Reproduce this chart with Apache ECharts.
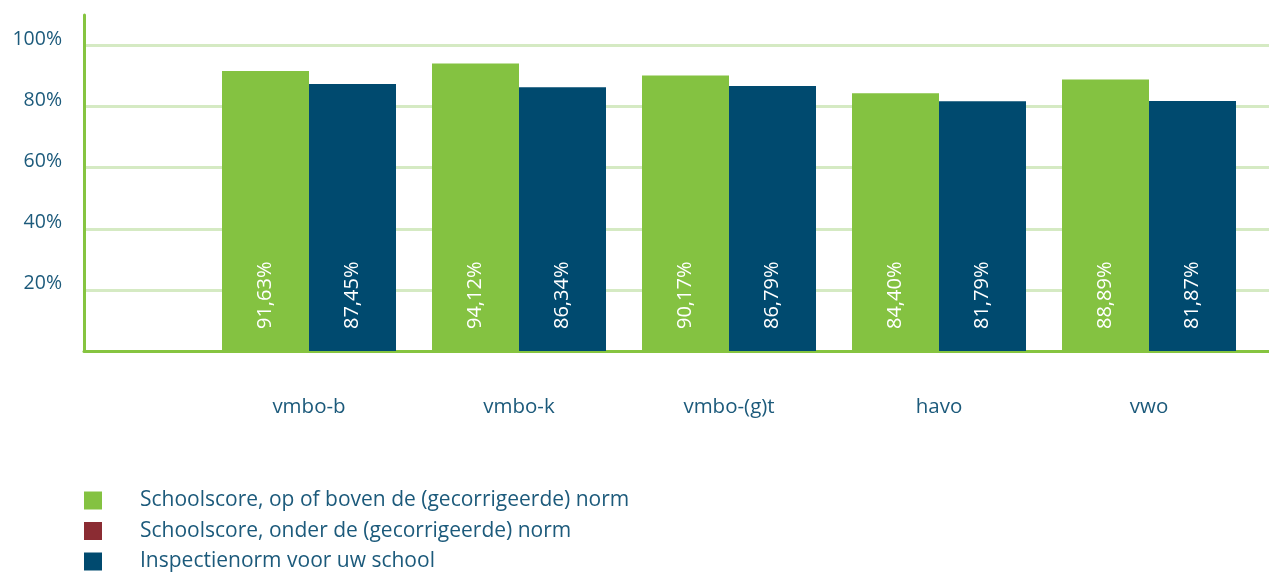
<!DOCTYPE html>
<html>
<head>
<meta charset="utf-8">
<script src="https://cdn.jsdelivr.net/npm/echarts@6/dist/echarts.min.js"></script>
<style>
  html, body { margin: 0; padding: 0; background: #fff; }
  #chart { width: 1269px; height: 572px; }
</style>
</head>
<body>
<div id="chart"></div>
<script>
// categorieen en scores
const categories = ['vmbo-b', 'vmbo-k', 'vmbo-(g)t', 'havo', 'vwo']
const schoolscoreBoven = [91.63, 94.12, 90.17, 84.40, 88.89]
const schoolscoreOnder = [null, null, null, null, null]
const inspectienorm = [87.45, 86.34, 86.79, 81.79, 81.87]
const seriesNames = [
  'Schoolscore, op of boven de (gecorrigeerde) norm',
  'Schoolscore, onder de (gecorrigeerde) norm',
  'Inspectienorm voor uw school'
]

const fontFamily = '"Open Sans", sans-serif'
const textColor = '#1c5a7b'
const axisGreen = '#86c440'
const gridGreen = '#d5eac3'

const barLabel = {
  show: true,
  position: 'insideBottom',
  rotate: 90,
  align: 'left',
  verticalAlign: 'middle',
  distance: 22,
  color: '#fff',
  fontFamily: fontFamily,
  fontSize: 20,
  formatter: function (p) {
    return p.value.toFixed(2).replace('.', ',') + '%'
  }
}

const option = {
  animation: false,
  textStyle: { fontFamily: fontFamily },
  grid: [
    // achtergrond: assen en hulplijnen
    { left: 84, right: 0, top: 15, bottom: 221 },
    // staven
    { left: 204, right: 15, top: 15, bottom: 221 }
  ],
  xAxis: [
    {
      gridIndex: 0,
      type: 'value',
      min: 0,
      max: 1,
      axisLine: { show: true, onZero: false, lineStyle: { color: axisGreen, width: 3 } },
      axisTick: { show: false },
      axisLabel: { show: false },
      splitLine: { show: false }
    },
    {
      gridIndex: 1,
      type: 'category',
      data: categories,
      axisLine: { show: false },
      axisTick: { show: false },
      axisLabel: {
        margin: 46,
        color: textColor,
        fontSize: 20.5,
        fontFamily: fontFamily
      }
    }
  ],
  yAxis: [
    {
      gridIndex: 0,
      type: 'value',
      min: 0,
      max: 110,
      interval: 20,
      axisLine: { show: true, lineStyle: { color: axisGreen, width: 3 } },
      axisTick: { show: false },
      axisLabel: {
        margin: 22,
        color: textColor,
        fontSize: 19.5,
        fontFamily: fontFamily,
        verticalAlign: 'bottom',
        lineHeight: 12,
        formatter: function (v) {
          return (v === 0 || v > 100) ? '' : v + '%'
        }
      },
      splitLine: {
        show: true,
        showMinLine: false,
        showMaxLine: false,
        lineStyle: { color: gridGreen, width: 3 }
      }
    },
    {
      gridIndex: 1,
      type: 'value',
      min: 0,
      max: 110,
      show: false
    }
  ],
  legend: {
    orient: 'vertical',
    left: 84,
    top: 490,
    height: 120,
    padding: 0,
    itemWidth: 18,
    itemHeight: 18,
    itemGap: 9.5,
    icon: 'rect',
    data: seriesNames,
    textStyle: {
      color: textColor,
      fontSize: 21,
      fontFamily: fontFamily,
      lineHeight: 18,
      padding: [0, 0, 0, 33]
    }
  },
  series: [
    {
      name: seriesNames[0],
      type: 'bar',
      xAxisIndex: 1,
      yAxisIndex: 1,
      stack: 'school',
      barWidth: 87,
      barGap: 0,
      color: '#84c241',
      label: barLabel,
      data: schoolscoreBoven
    },
    {
      name: seriesNames[1],
      type: 'bar',
      xAxisIndex: 1,
      yAxisIndex: 1,
      stack: 'school',
      barWidth: 87,
      barGap: 0,
      color: '#8b2c33',
      label: barLabel,
      data: schoolscoreOnder
    },
    {
      name: seriesNames[2],
      type: 'bar',
      xAxisIndex: 1,
      yAxisIndex: 1,
      barWidth: 87,
      barGap: 0,
      color: '#004a6f',
      label: barLabel,
      data: inspectienorm
    }
  ]
}

const myChart = echarts.init(document.getElementById('chart'))
myChart.setOption(option)
</script>
</body>
</html>
